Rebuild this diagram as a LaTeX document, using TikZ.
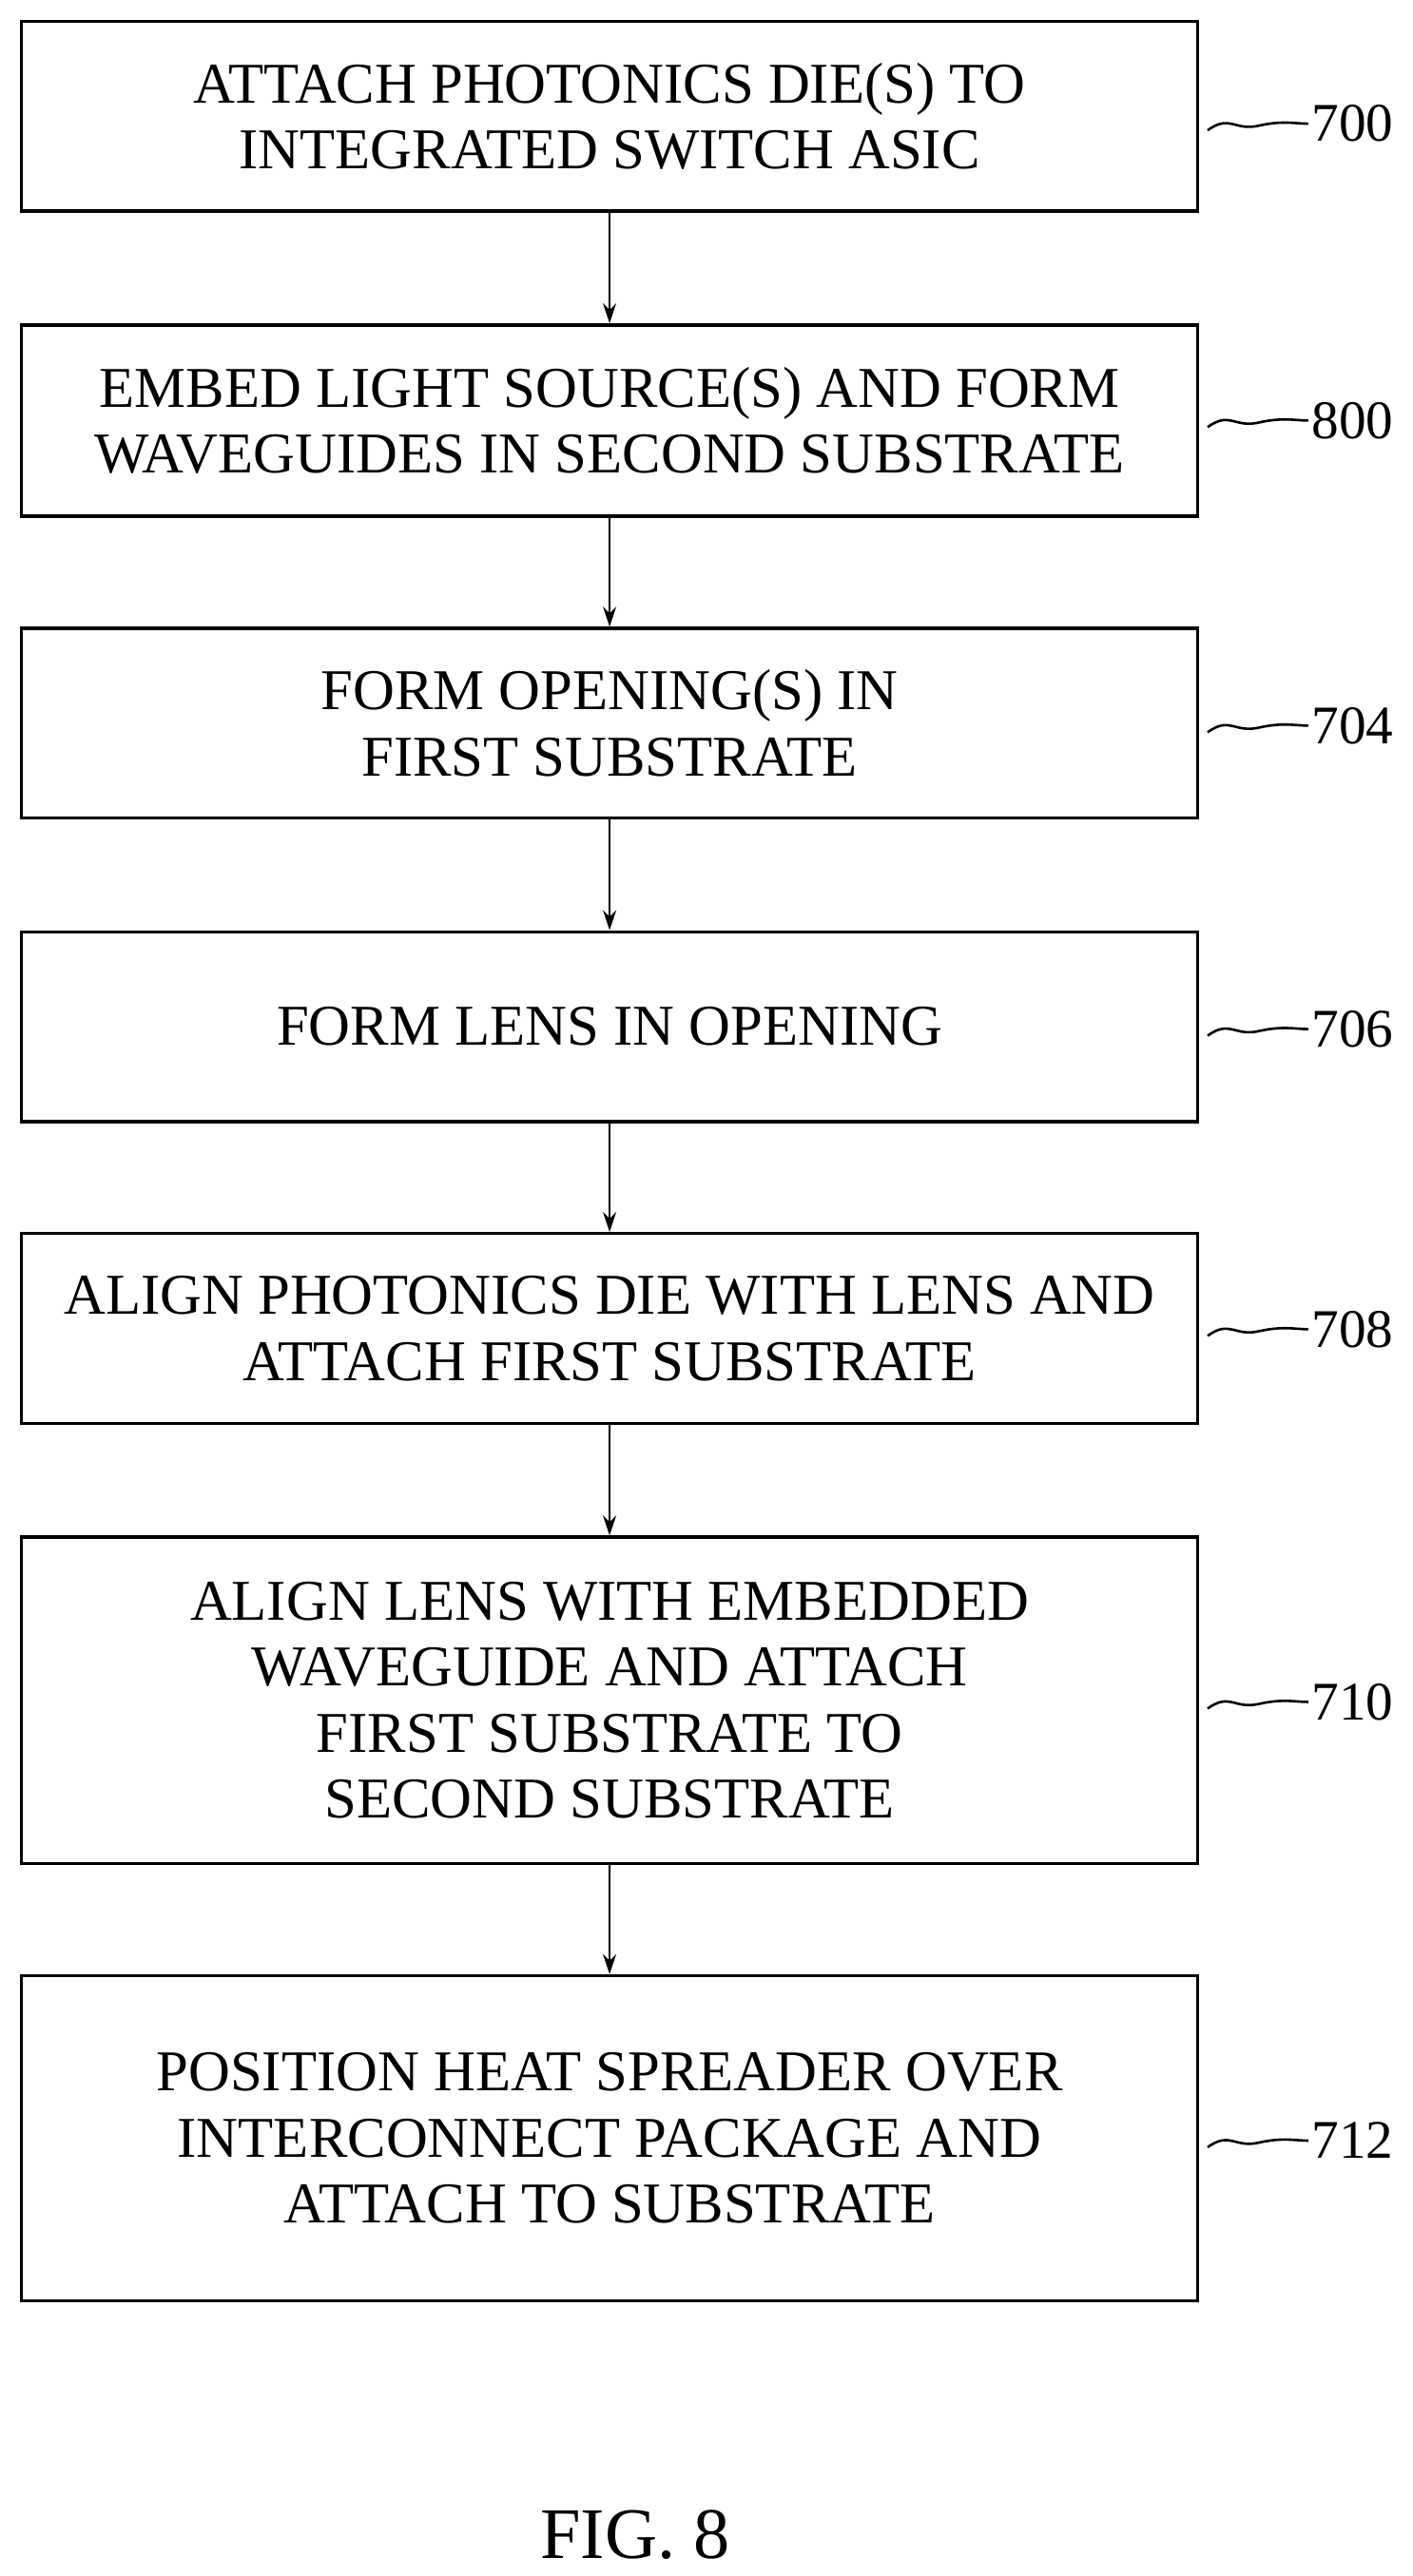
\documentclass[tikz,border=0pt]{standalone}
\usepackage{fontspec}
\setmainfont{Liberation Serif}
\usetikzlibrary{arrows.meta}
\begin{document}
\begin{tikzpicture}[x=1pt,y=1pt,
  box/.style={draw,line width=2pt,minimum width=713pt,align=center,font=\fontsize{35}{40}\selectfont,inner sep=0pt},
  lab/.style={font=\fontsize{33}{36}\selectfont,anchor=west,inner sep=0pt},
  arr/.style={line width=1.5pt,-{Stealth[length=12pt,width=8pt]}},
  sq/.style={line width=1.5pt}]
\useasboundingbox (0,0) rectangle (856,-1562);
\fill[white] (0,0) rectangle (856,-1562);
\node[box,minimum height=115pt] (b1) at (369.5,-70.5) {ATTACH PHOTONICS DIE(S) TO\\INTEGRATED SWITCH ASIC};
\node[box,minimum height=116pt] (b2) at (369.5,-255) {EMBED LIGHT SOURCE(S) AND FORM\\WAVEGUIDES IN SECOND SUBSTRATE};
\node[box,minimum height=115pt] (b3) at (369.5,-438.5) {FORM OPENING(S) IN\\FIRST SUBSTRATE};
\node[box,minimum height=115pt] (b4) at (369.5,-622.5) {FORM LENS IN OPENING};
\node[box,minimum height=115pt] (b5) at (369.5,-805.5) {ALIGN PHOTONICS DIE WITH LENS AND\\ATTACH FIRST SUBSTRATE};
\node[box,minimum height=198pt] (b6) at (369.5,-1031) {ALIGN LENS WITH EMBEDDED\\WAVEGUIDE AND ATTACH\\FIRST SUBSTRATE TO\\SECOND SUBSTRATE};
\node[box,minimum height=197pt] (b7) at (369.5,-1296.5) {POSITION HEAT SPREADER OVER\\INTERCONNECT PACKAGE AND\\ATTACH TO SUBSTRATE};
\foreach \a/\b in {b1/b2,b2/b3,b3/b4,b4/b5,b5/b6,b6/b7} \draw[arr] (\a.south) -- (\b.north);
\foreach \b/\t/\y in {b1/700/-75,b2/800/-255,b3/704/-440,b4/706/-624,b5/708/-806,b6/710/-1032,b7/712/-1298}{
  \node[lab] (l\t) at (795,\y) {\t};
  \coordinate (s\t) at (732,\y-4);
  \draw[sq] (s\t) .. controls +(14,10) and +(-16,-4) .. +(32,3) .. controls +(14,3) and +(-8,0) .. ([xshift=-2pt]l\t.west);
}
\node[font=\fontsize{44}{48}\selectfont] (fig) at (385,-1537) {FIG. 8};
\end{tikzpicture}
\end{document}
